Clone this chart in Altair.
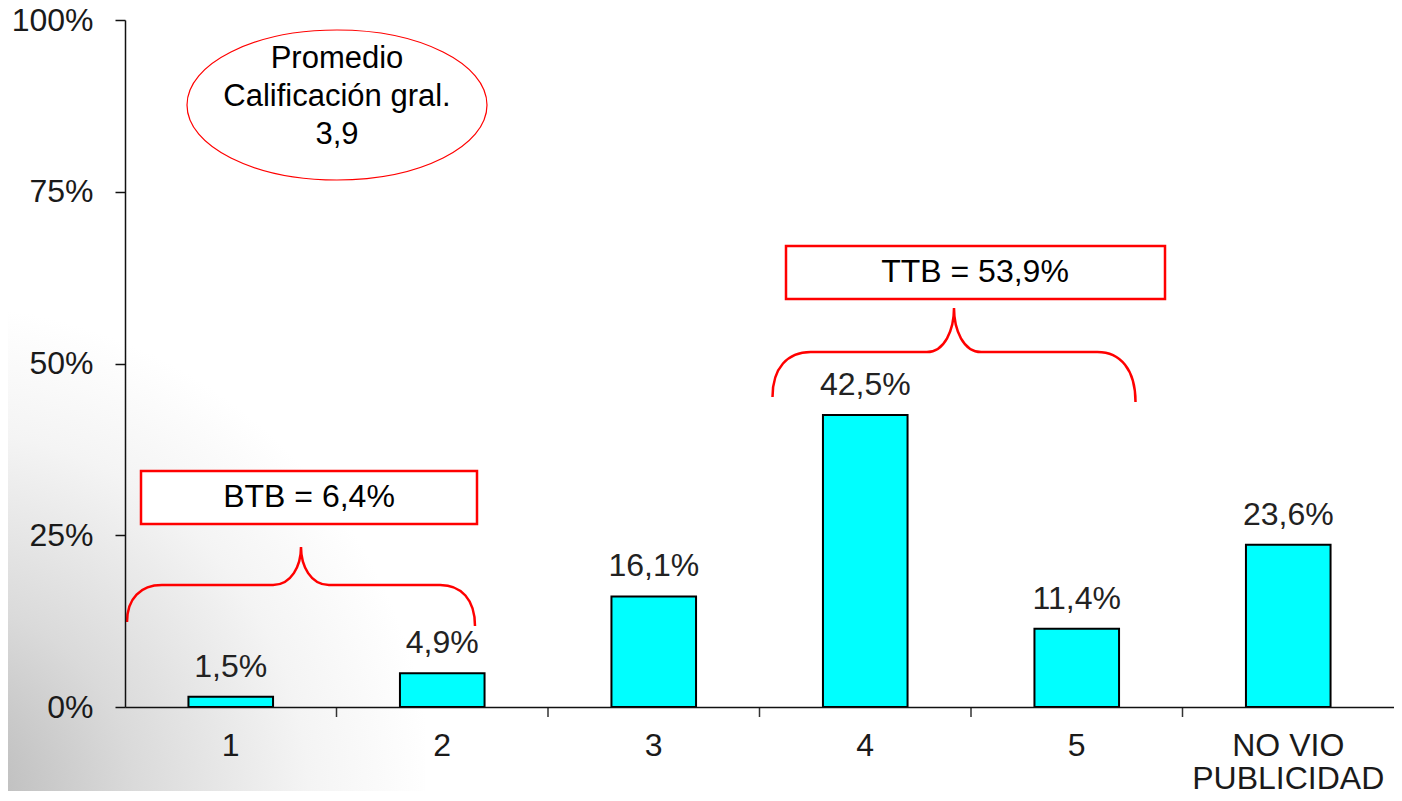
import altair as alt
import pandas as pd

FONT = "Liberation Sans"

# ---- data ----
categories = ["1", "2", "3", "4", "5", "NO VIO PUBLICIDAD"]
values = [1.5, 4.9, 16.1, 42.5, 11.4, 23.6]
value_labels = ["1,5%", "4,9%", "16,1%", "42,5%", "11,4%", "23,6%"]
y_ticks = [0, 25, 50, 75, 100]
boundary_cats = ["2", "3", "4", "5", "NO VIO PUBLICIDAD"]

box_texts = ["BTB = 6,4%", "TTB = 53,9%"]
ellipse_lines = ["Promedio", "Calificación gral.", "3,9"]

# ---- annotation geometry (pixels, relative to plot area) ----
box_x = [16, 661]
box_x2 = [352, 1040]
box_y = [451, 226]
box_y2 = [504, 279]
box_text_x = [184, 850]
box_text_y = [477, 252]

ellipse_cx, ellipse_cy, ellipse_rx, ellipse_ry = 212, 85, 150, 75
ellipse_text_y = [39, 77, 115]

# brace: center x, center y, half width, left end, right end, tip, corner, mid
braces = [
    (176, 565, 174, 0.213, 0.236, -0.218, 0.20, 0.16),
    (829, 332, 181.5, 0.248, 0.275, -0.242, 0.21, 0.15),
]

W, H = 1269, 687


def brace_path(lend, rend, tip, corner, mid):
    return (
        f"M -1 {lend} C -1 {lend*0.35:.3f} {-1+corner*0.4:.3f} 0 {-1+corner:.3f} 0 "
        f"L {-mid:.3f} 0 C {-mid*0.35:.3f} 0 0 {tip*0.5:.3f} 0 {tip} "
        f"C 0 {tip*0.5:.3f} {mid*0.35:.3f} 0 {mid:.3f} 0 "
        f"L {1-corner:.3f} 0 C {1-corner*0.4:.3f} 0 1 {rend*0.35:.3f} 1 {rend}"
    )


def ellipse_path(ry):
    k = 0.5523
    return (
        f"M 1 0 C 1 {ry*k:.4f} {k:.4f} {ry} 0 {ry} "
        f"C {-k:.4f} {ry} -1 {ry*k:.4f} -1 0 "
        f"C -1 {-ry*k:.4f} {-k:.4f} {-ry} 0 {-ry} "
        f"C {k:.4f} {-ry} 1 {-ry*k:.4f} 1 0 Z"
    )


df = pd.DataFrame({"cat": categories, "val": values, "lab": value_labels})
bdf = pd.DataFrame({"cat": boundary_cats})
one = pd.DataFrame({"a": [0]})

x_axis = alt.Axis(
    title=None, labelAngle=0, ticks=False, domainColor="#111111", domainWidth=1.5,
    labelFont=FONT, labelFontSize=32, labelColor="#1a1a1a", labelPadding=23,
    labelBaseline="top", labelLineHeight=33, labelLimit=0, zindex=1,
    labelExpr="datum.value == 'NO VIO PUBLICIDAD' ? ['NO VIO', 'PUBLICIDAD'] : datum.value",
)
y_axis = alt.Axis(
    title=None, values=y_ticks, labelExpr="datum.value + '%'", tickSize=10,
    tickColor="#111111", domainColor="#111111", domainWidth=1.5, tickWidth=1.5,
    labelPadding=22, grid=False, labelFont=FONT, labelFontSize=32,
    labelColor="#1a1a1a", zindex=1,
)
x_scale = alt.Scale(paddingInner=0, paddingOuter=0)
y_scale = alt.Scale(domain=[0, 100])

bg = alt.Chart(one).mark_rect(
    fill={
        "gradient": "radial",
        "x1": 0, "y1": 1, "r1": 0,
        "x2": 0, "y2": 1, "r2": 0.9,
        "stops": [
            {"offset": 0, "color": "#b4b4b4"},
            {"offset": 0.4, "color": "#dadada"},
            {"offset": 0.75, "color": "#f4f4f4"},
            {"offset": 1, "color": "#ffffff"},
        ],
    }
).encode(x=alt.value(-125), x2=alt.value(300), y=alt.value(230), y2=alt.value(781))

bars = alt.Chart(df).mark_bar(
    width={"band": 0.4}, color="#00FFFF", stroke="black", strokeWidth=2
).encode(
    x=alt.X("cat:N", sort=categories, scale=x_scale, axis=x_axis),
    y=alt.Y("val:Q", scale=y_scale, axis=y_axis),
)

bar_text = alt.Chart(df).mark_text(
    dy=-20, baseline="alphabetic", font=FONT, fontSize=32, color="#222222"
).encode(
    x=alt.X("cat:N", sort=categories),
    y=alt.Y("val:Q"),
    text="lab:N",
)

ticks = alt.Chart(bdf).mark_rule(color="#333333", strokeWidth=1.5).encode(
    x=alt.X("cat:N", sort=categories, bandPosition=0),
    y=alt.value(H),
    y2=alt.value(H + 10),
)

layers = [bg, bars, ticks, bar_text]

for i in range(2):
    layers.append(
        alt.Chart(one).mark_rect(fill="white", stroke="#ff0000", strokeWidth=2.5).encode(
            x=alt.value(box_x[i]), x2=alt.value(box_x2[i]),
            y=alt.value(box_y[i]), y2=alt.value(box_y2[i]),
        )
    )
    layers.append(
        alt.Chart(one).mark_text(
            text=box_texts[i], font=FONT, fontSize=32, color="black", baseline="middle"
        ).encode(x=alt.value(box_text_x[i]), y=alt.value(box_text_y[i]))
    )

for cx, cy, r, le, re, tp, co, mi in braces:
    layers.append(
        alt.Chart(one).mark_point(
            shape=brace_path(le, re, tp, co, mi), size=(2 * r) ** 2, filled=False,
            stroke="#ff0000", strokeWidth=2.5, opacity=1,
        ).encode(x=alt.value(cx), y=alt.value(cy))
    )

layers.append(
    alt.Chart(one).mark_point(
        shape=ellipse_path(ellipse_ry / ellipse_rx), size=(2 * ellipse_rx) ** 2,
        filled=False, stroke="#ff0000", strokeWidth=1.2, opacity=1,
    ).encode(x=alt.value(ellipse_cx), y=alt.value(ellipse_cy))
)
for line, ty in zip(ellipse_lines, ellipse_text_y):
    layers.append(
        alt.Chart(one).mark_text(
            text=line, font=FONT, fontSize=31, color="black", baseline="middle"
        ).encode(x=alt.value(ellipse_cx), y=alt.value(ty))
    )

chart = alt.layer(*layers).properties(
    width=W, height=H,
    autosize=alt.AutoSizeParams(type="none"),
    padding={"left": 117, "top": 12, "right": 0, "bottom": 84},
    background="white",
).configure_view(stroke=None)

chart.save("out.html", embed_options={"renderer": "svg", "actions": False})
